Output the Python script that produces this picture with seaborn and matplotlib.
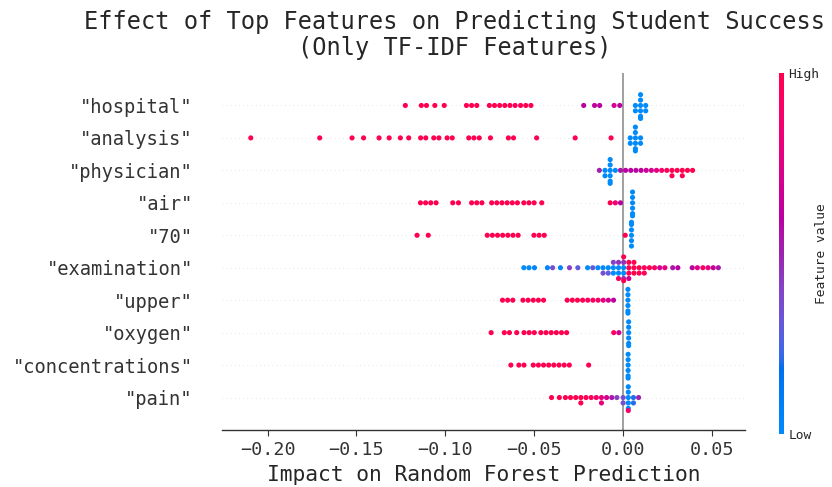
import numpy as np
import pandas as pd
import matplotlib
matplotlib.use("Agg")
import matplotlib.pyplot as plt
import matplotlib.cm as cm
from matplotlib.colors import LinearSegmentedColormap, Normalize
import seaborn as sns


features = ['"hospital"', '"analysis"', '"physician"', '"air"', '"70"',
            '"examination"', '"upper"', '"oxygen"', '"concentrations"', '"pain"']

# (impact value, feature value 0..1, number of dots at that value)
hospital = [
    (-0.1225, 1, 1), (-0.1135, 1, 1), (-0.1106, 1, 1), (-0.1059, 1, 1),
    (-0.1006, 1, 1), (-0.0881, 1, 1), (-0.0852, 1, 1), (-0.0823, 1, 1),
    (-0.0752, 1, 1), (-0.0723, 1, 1), (-0.0694, 1, 1), (-0.0665, 1, 1),
    (-0.0636, 1, 1), (-0.0607, 0.95, 1), (-0.0576, 1, 1), (-0.0547, 1, 1),
    (-0.0518, 1, 1),
    (-0.0221, 0.6, 1), (-0.0160, 0.62, 1), (-0.0131, 0.6, 1), (-0.0050, 0.7, 1),
    (-0.0018, 0.6, 1),
    (0.0070, 0, 2), (0.0099, 0, 6), (0.0128, 0, 2),
]
analysis = [
    (-0.2095, 1, 1), (-0.1707, 1, 1), (-0.1525, 1, 1), (-0.1460, 1, 1),
    (-0.1373, 1, 1), (-0.1316, 1, 1), (-0.1253, 1, 1), (-0.1206, 1, 1),
    (-0.1139, 1, 1), (-0.1110, 1, 1), (-0.1065, 1, 1), (-0.1036, 1, 1),
    (-0.0990, 1, 1), (-0.0961, 1, 1), (-0.0868, 1, 1), (-0.0839, 1, 1),
    (-0.0809, 1, 1), (-0.0746, 1, 1), (-0.0645, 1, 1), (-0.0616, 1, 1),
    (-0.0486, 1, 1), (-0.0269, 1, 1), (-0.0067, 1, 1),
    (0.0041, 0, 2), (0.0070, 0, 6), (0.0099, 0, 2),
]
physician = [
    (-0.0133, 0.5, 1),
    (-0.0101, 0, 2), (-0.0072, 0, 6), (-0.0043, 0, 1),
    (-0.0014, 0.55, 1), (0.0015, 0.6, 1), (0.0044, 0.6, 1), (0.0073, 0.58, 1),
    (0.0102, 0.62, 1), (0.0131, 0.65, 1), (0.0160, 0.7, 1), (0.0189, 0.78, 1),
    (0.0218, 0.88, 1), (0.0247, 0.95, 1), (0.0276, 1, 2), (0.0305, 1, 1),
    (0.0334, 1, 2), (0.0363, 1, 1), (0.0392, 1, 1),
]
air = [
    (-0.1140, 1, 1), (-0.1111, 1, 1), (-0.1082, 1, 1), (-0.1052, 1, 1),
    (-0.0958, 1, 1), (-0.0926, 1, 1), (-0.0852, 1, 1), (-0.0823, 1, 1),
    (-0.0794, 1, 1), (-0.0739, 1, 1), (-0.0710, 1, 1), (-0.0681, 1, 1),
    (-0.0652, 1, 1), (-0.0623, 1, 1), (-0.0594, 1, 1), (-0.0558, 1, 1),
    (-0.0529, 1, 1), (-0.0500, 1, 1), (-0.0457, 1, 1),
    (-0.0072, 1, 1), (-0.0043, 0.85, 1), (-0.0014, 0.6, 1),
    (0.0054, 0, 6),
]
seventy = [
    (-0.1159, 1, 1), (-0.1096, 1, 1),
    (-0.0764, 1, 1), (-0.0735, 1, 1), (-0.0706, 1, 1), (-0.0677, 1, 1),
    (-0.0648, 1, 1), (-0.0619, 1, 1), (-0.0590, 1, 1),
    (-0.0501, 1, 1), (-0.0472, 1, 1), (-0.0443, 1, 1),
    (0.0013, 1, 1), (0.0048, 0, 6),
]
examination = [
    (-0.0558, 0, 1), (-0.0529, 0, 1), (-0.0498, 0.05, 1), (-0.0425, 0.05, 1),
    (-0.0396, 0.35, 1), (-0.0352, 0.05, 1), (-0.0301, 0.4, 1), (-0.0254, 0.3, 1),
    (-0.0199, 0, 1), (-0.0170, 0.3, 1), (-0.0141, 0, 1),
    (-0.0112, 0, 1), (-0.0112, 0.35, 1), (-0.0083, 0, 1), (-0.0083, 0.3, 1),
    (-0.0054, 0, 2), (-0.0054, 0.4, 1),
    (-0.0025, 0, 2), (-0.0025, 0.45, 1), (-0.0025, 0.9, 1),
    (0.0004, 0, 2), (0.0004, 0.45, 2), (0.0004, 1, 2),
    (0.0033, 1, 3), (0.0033, 0.7, 1), (0.0062, 1, 3), (0.0091, 1, 2),
    (0.0120, 0.95, 2), (0.0149, 1, 1), (0.0178, 0.9, 1),
    (0.0207, 0.7, 1), (0.0236, 0.8, 1), (0.0280, 0.55, 1), (0.0309, 0.6, 1),
    (0.0390, 0.6, 1), (0.0419, 0.75, 1), (0.0450, 0.9, 1), (0.0479, 0.8, 1),
    (0.0508, 0.65, 1), (0.0537, 0.55, 1),
]
upper = [
    (-0.0678, 1, 1), (-0.0649, 1, 1), (-0.0620, 1, 1), (-0.0563, 1, 1),
    (-0.0534, 1, 1), (-0.0505, 1, 1), (-0.0476, 1, 1), (-0.0447, 1, 1),
    (-0.0314, 1, 1), (-0.0285, 1, 1), (-0.0256, 1, 1), (-0.0227, 1, 1),
    (-0.0198, 0.95, 1), (-0.0169, 0.95, 1), (-0.0140, 0.9, 1), (-0.0111, 0.8, 1),
    (-0.0082, 0.7, 1), (-0.0053, 0.6, 1),
    (0.0028, 0, 6),
]
oxygen = [
    (-0.0742, 1, 1), (-0.0668, 1, 1), (-0.0639, 1, 1), (-0.0598, 1, 1),
    (-0.0557, 1, 1), (-0.0528, 1, 1), (-0.0499, 1, 1), (-0.0462, 1, 1),
    (-0.0433, 1, 1), (-0.0404, 1, 1), (-0.0375, 1, 1), (-0.0346, 1, 1),
    (-0.0317, 1, 1),
    (-0.0052, 0.95, 1), (-0.0023, 0.7, 1),
    (0.0032, 0, 6),
]
concentrations = [
    (-0.0631, 1, 1), (-0.0586, 1, 1), (-0.0557, 1, 1), (-0.0505, 1, 1),
    (-0.0476, 1, 1), (-0.0447, 1, 1), (-0.0418, 1, 1), (-0.0389, 1, 1),
    (-0.0360, 1, 1), (-0.0331, 1, 1), (-0.0302, 1, 1), (-0.0193, 1, 1),
    (0.0029, 0, 6),
]
pain = [
    (-0.0402, 1, 1), (-0.0358, 1, 1), (-0.0324, 1, 1), (-0.0295, 1, 1),
    (-0.0266, 1, 1), (-0.0237, 1, 2), (-0.0208, 1, 1), (-0.0179, 0.95, 1),
    (-0.0150, 0.9, 1), (-0.0121, 0.8, 2), (-0.0092, 0.7, 1), (-0.0063, 0.55, 1),
    (-0.0034, 0.4, 1),
    (0.0001, 0.35, 2), (0.0030, 0, 5), (0.0030, 0.9, 1), (0.0059, 0.2, 2),
    (0.0088, 0.5, 1),
]
all_rows = [hospital, analysis, physician, air, seventy,
            examination, upper, oxygen, concentrations, pain]


def lch2rgb(l, c, h):
    # CIE LCh -> sRGB (D65), same path as the shap colormap
    a, b = c * np.cos(h), c * np.sin(h)
    fy = (l + 16) / 116
    f = np.array([fy + a / 500, fy, fy - b / 200])
    f = np.where(f > 0.2068966, f ** 3, (f - 16 / 116) / 7.787)
    xyz = f * np.array([0.95047, 1.0, 1.08883])
    m = np.array([[3.2406, -1.5372, -0.4986],
                  [-0.9689, 1.8758, 0.0415],
                  [0.0557, -0.2040, 1.0570]])
    rgb = m @ xyz
    rgb = np.where(rgb > 0.0031308, 1.055 * np.abs(rgb) ** (1 / 2.4) - 0.055, 12.92 * rgb)
    return np.clip(rgb, 0, 1)


blue_lch = [54., 70., 4.6588]
red_lch = [54., 90., 0.35470565 + 2 * np.pi]
nsteps = 100
l_vals = list(np.linspace(blue_lch[0], 40., nsteps // 2)) + list(np.linspace(40., red_lch[0], nsteps // 2))
c_vals = np.linspace(blue_lch[1], red_lch[1], nsteps)
h_vals = np.linspace(blue_lch[2], red_lch[2], nsteps)
red_blue = LinearSegmentedColormap.from_list(
    "red_blue", [lch2rgb(l, c, h) for l, c, h in zip(l_vals, c_vals, h_vals)])

recs = []
for name, pts in zip(features, all_rows):
    for s, v, n in pts:
        recs += [(name, s, v)] * n
df = pd.DataFrame(recs, columns=["feature", "shap", "value"])

sns.set_style("white")
plt.rcParams["font.family"] = ["DejaVu Sans Mono"]

fig = plt.figure(figsize=(8.32, 4.87), dpi=100)
ax = fig.add_axes([222 / 832, 57 / 487, 523 / 832, 357 / 487])

for i in range(len(features)):
    ax.axhline(i, color="#cccccc", lw=0.5, dashes=(1, 5), zorder=-1)
ax.axvline(0, color="#999999", lw=1.3, zorder=-1)

sns.swarmplot(data=df, x="shap", y="feature", order=features, hue="value",
              palette=red_blue, hue_norm=(0, 1), size=3.7, linewidth=0,
              legend=False, orient="h", warn_thresh=1, ax=ax)

ax.set_ylim(10, -1)
ax.set_xlim(-0.2257, 0.0687)
ax.set_ylabel("")
ax.set_xlabel("Impact on Random Forest Prediction", fontsize=15.3)
sns.despine(ax=ax, left=True)
ax.spines["bottom"].set_color("#333333")
ax.spines["bottom"].set_linewidth(1.0)
ax.tick_params(axis="y", left=False, length=0, pad=21, labelsize=13.5, labelcolor="#333333")
ax.tick_params(axis="x", bottom=True, length=4.5, width=0.8, color="#333333",
               labelsize=13.2, labelcolor="#333333")

cax = fig.add_axes([779 / 832, 53 / 487, 5 / 832, 361 / 487])
sm = cm.ScalarMappable(norm=Normalize(0, 1), cmap=red_blue)
cb = fig.colorbar(sm, cax=cax, ticks=[0, 1])
cb.set_ticklabels(["Low", "High"])
cb.set_label("Feature value", size=9.3, labelpad=-3)
cb.ax.tick_params(labelsize=9.3, length=0, pad=3)
cb.outline.set_visible(False)

fig.text(0.546, 1 - 35 / 487,
         "Effect of Top Features on Predicting Student Success\n(Only TF-IDF Features)",
         ha="center", va="center", fontsize=17, linespacing=1.1)

fig.savefig("out.png", dpi=100)
